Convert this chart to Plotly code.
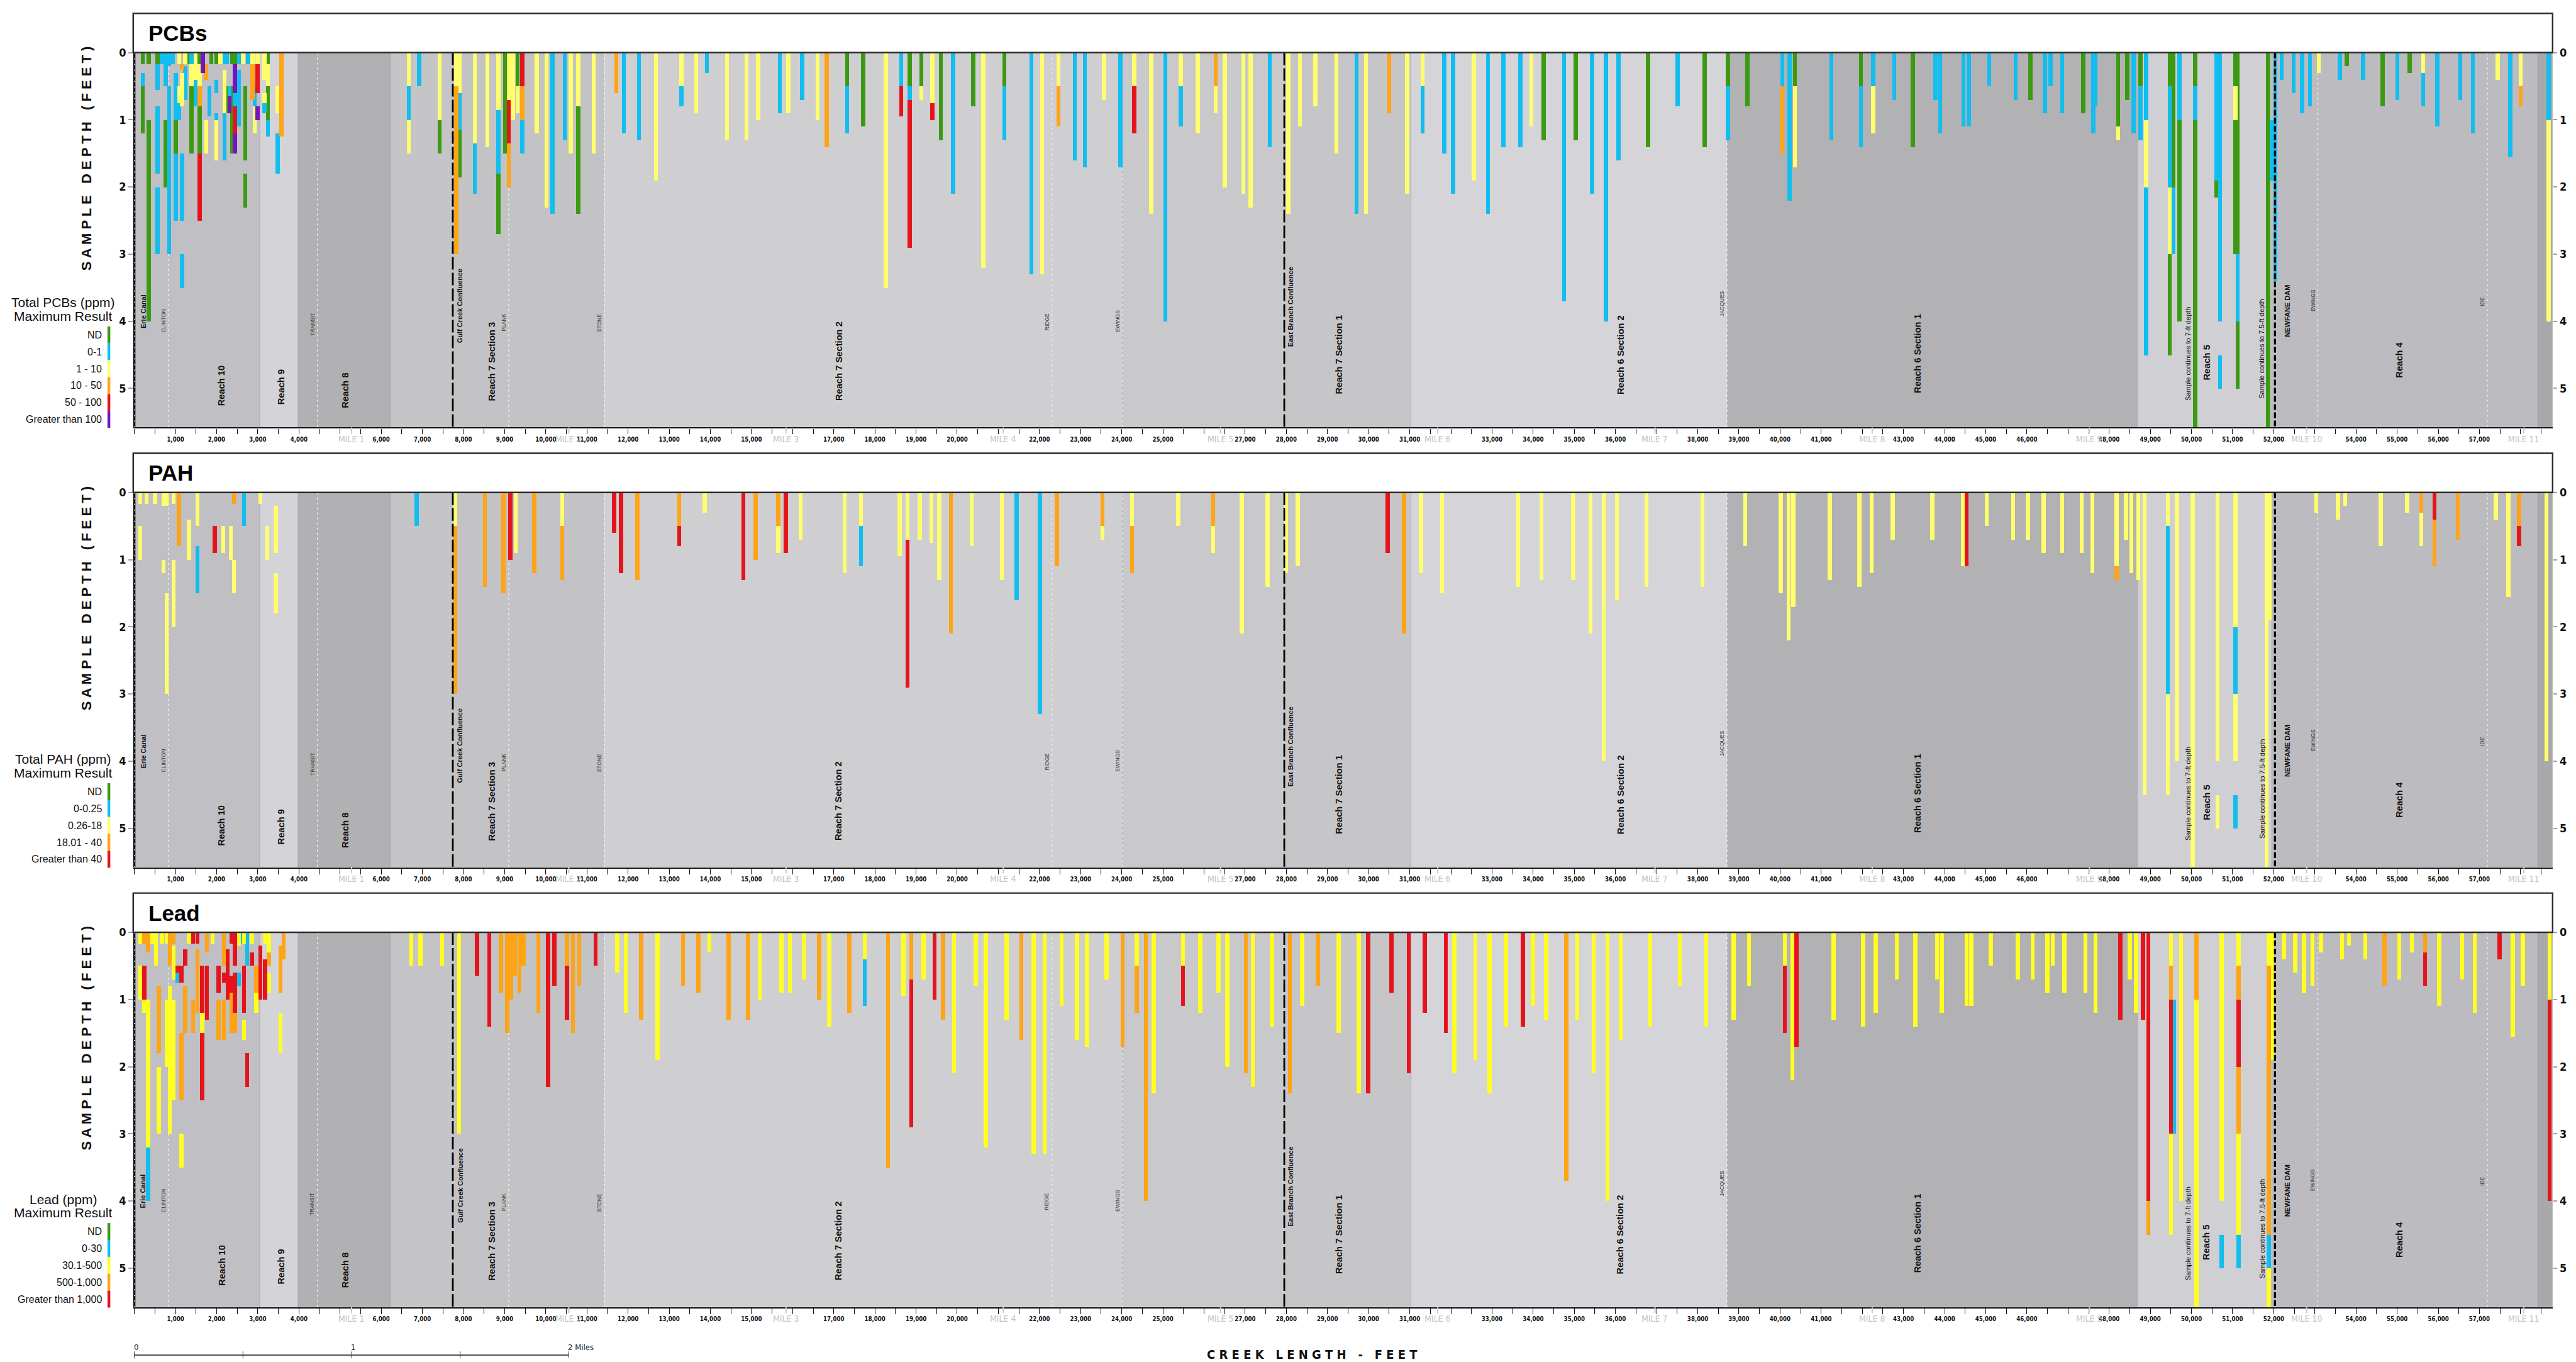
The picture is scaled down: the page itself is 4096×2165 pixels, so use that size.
import plotly.graph_objects as go

# ============================================================ DATA
PCB_CLASSES = ["ND", "0-1", "1 - 10", "10 - 50", "50 - 100", "Greater than 100"]
PAH_CLASSES = ["ND", "0-0.25", "0.26-18", "18.01 - 40", "Greater than 40"]
LEAD_CLASSES = ["ND", "0-30", "30.1-500", "500-1,000", "Greater than 1,000"]

# (creek station ft, top depth ft, bottom depth ft, class index)
PCB_SAMPLES = [
    (200, 0, 0.17, 0), (200, 0.3, 0.5, 1), (200, 0.5, 1.2, 0),
    (350, 0, 0.17, 0), (350, 1.0, 4.0, 0),
    (560, 0, 0.17, 0), (560, 0.17, 0.55, 1), (560, 0.8, 1.8, 1), (560, 2.0, 3.0, 1),
    (660, 0, 0.17, 1),
    (760, 0, 0.5, 1), (760, 1.0, 2.0, 0),
    (845, 0, 0.2, 1), (845, 0.5, 1.0, 1), (845, 1.0, 3.0, 1),
    (930, 0, 0.17, 1),
    (1005, 0.3, 1.0, 1), (1005, 1.0, 1.5, 0), (1005, 1.5, 2.5, 1),
    (1085, 0, 0.17, 2), (1085, 0.5, 0.75, 2), (1085, 0.75, 1.0, 1),
    (1155, 0.17, 0.25, 3), (1155, 0.3, 0.8, 2), (1155, 1.5, 2.5, 1), (1155, 3.0, 3.5, 1),
    (1235, 0, 0.17, 2), (1235, 0.2, 0.7, 1),
    (1300, 0, 0.17, 0),
    (1385, 0, 0.17, 1), (1385, 0.17, 0.5, 2), (1385, 0.5, 1.5, 0),
    (1487, 0, 0.4, 2), (1487, 0.4, 0.8, 1),
    (1588, 0, 0.17, 0), (1588, 0.17, 0.5, 2), (1588, 0.5, 0.8, 3), (1588, 0.8, 1.5, 0), (1588, 1.5, 2.5, 4),
    (1660, 0, 0.3, 5),
    (1738, 0.17, 0.4, 3), (1738, 1.0, 1.5, 2),
    (1820, 0.5, 0.95, 1),
    (1870, 0, 0.17, 0),
    (1990, 0, 0.17, 0), (1990, 0.4, 0.6, 1), (1990, 0.9, 1.0, 1), (1990, 1.0, 1.6, 2),
    (2090, 0, 0.17, 2),
    (2190, 0, 0.17, 1), (2190, 0.25, 0.9, 2), (2190, 0.9, 1.6, 1),
    (2240, 0, 0.17, 1), (2240, 0.5, 0.9, 0),
    (2310, 0.5, 0.65, 1), (2310, 0.65, 0.9, 5),
    (2370, 0, 0.17, 0), (2370, 0.5, 1.5, 0),
    (2440, 0, 0.17, 0), (2440, 0.17, 0.6, 5), (2440, 0.6, 0.8, 1), (2440, 0.8, 1.2, 4), (2440, 1.2, 1.5, 5),
    (2540, 0, 0.17, 1), (2540, 0.25, 1.1, 1),
    (2640, 0, 0.17, 2),
    (2690, 0.5, 1.6, 0), (2690, 1.8, 2.3, 0),
    (2760, 0, 0.17, 1),
    (2870, 0, 0.17, 2), (2870, 0.17, 0.7, 3),
    (2920, 0.5, 0.8, 1), (2920, 0.8, 1.2, 2),
    (2995, 0, 0.17, 2), (2995, 0.17, 0.6, 4), (2995, 0.8, 1.0, 5),
    (3155, 0, 0.4, 2), (3155, 0.6, 0.75, 2), (3155, 0.75, 0.9, 1),
    (3245, 0, 0.17, 0), (3245, 0.17, 0.5, 2), (3245, 0.5, 1.0, 0), (3245, 1.0, 1.25, 1),
    (3478, 0.5, 0.9, 2), (3478, 1.2, 1.8, 1),
    (3570, 0, 1.25, 3),
    (6665, 0, 0.5, 2), (6665, 0.5, 1.0, 1), (6665, 1.0, 1.5, 2),
    (6916, 0, 0.5, 1),
    (7419, 0, 1.0, 2), (7419, 1.0, 1.5, 0),
    (7822, 0, 0.5, 2), (7822, 0.5, 3.0, 3),
    (7902, 0, 0.6, 2), (7902, 0.6, 1.15, 1), (7902, 1.15, 1.85, 0),
    (8274, 0, 1.35, 2), (8274, 1.35, 2.1, 1),
    (8575, 0, 1.4, 2),
    (8847, 0, 0.85, 2), (8847, 0.85, 1.8, 1), (8847, 1.8, 2.7, 0),
    (9008, 0, 1.5, 0),
    (9098, 0, 0.7, 2), (9098, 0.7, 1.35, 4), (9098, 1.35, 2.0, 3),
    (9199, 0, 1.0, 2),
    (9310, 0, 0.5, 0), (9310, 0.5, 0.9, 2),
    (9430, 0, 0.5, 4), (9430, 0.5, 1.0, 3), (9430, 1.0, 1.5, 1),
    (9782, 0, 1.2, 2),
    (10013, 0, 2.3, 2),
    (10164, 0, 2.4, 1),
    (10456, 0, 1.3, 1),
    (10606, 0, 1.5, 2),
    (10787, 0, 0.8, 2), (10787, 0.8, 2.4, 0),
    (11159, 0, 1.5, 2),
    (11712, 0, 0.6, 3),
    (11893, 0, 1.2, 1),
    (12265, 0, 1.3, 1),
    (12673, 0, 1.9, 2),
    (13294, 0, 0.5, 2), (13294, 0.5, 0.8, 1),
    (13651, 0, 0.9, 2),
    (13914, 0, 0.3, 1),
    (14404, 0, 1.3, 2),
    (14874, 0, 1.3, 2),
    (15156, 0, 1.0, 2),
    (15683, 0, 0.9, 1),
    (15890, 0, 0.9, 2),
    (16229, 0, 0.7, 1),
    (16605, 0, 1.0, 2),
    (16829, 0, 1.4, 3),
    (17320, 0, 0.5, 0), (17320, 0.5, 1.2, 1),
    (17711, 0, 1.1, 0),
    (18261, 0, 3.5, 2),
    (18638, 0, 0.5, 1), (18638, 0.5, 0.95, 4),
    (18845, 0, 0.5, 0), (18845, 0.5, 0.7, 1), (18845, 0.7, 2.9, 4),
    (19126, 0, 0.5, 0), (19126, 0.5, 0.7, 2),
    (19390, 0, 0.75, 2), (19390, 0.75, 1.0, 4),
    (19597, 0, 1.3, 0),
    (19898, 0, 2.1, 1),
    (20388, 0, 0.8, 0),
    (20632, 0, 3.2, 2),
    (21140, 0, 0.5, 0), (21140, 0.5, 1.3, 1),
    (21799, 0, 3.3, 1),
    (22062, 0, 3.3, 2),
    (22457, 0, 0.5, 2), (22457, 0.5, 1.1, 3),
    (22852, 0, 1.6, 1),
    (23097, 0, 1.7, 1),
    (23567, 0, 0.7, 2),
    (23962, 0, 1.7, 1),
    (24301, 0, 0.5, 2), (24301, 0.5, 1.2, 4),
    (24715, 0, 2.4, 2),
    (25054, 0, 4.0, 1),
    (25430, 0, 0.5, 2), (25430, 0.5, 1.1, 1),
    (25844, 0, 1.2, 2),
    (26277, 0, 0.5, 3), (26277, 0.5, 0.9, 2),
    (26502, 0, 2.0, 2),
    (26954, 0, 2.1, 2),
    (27124, 0, 2.3, 2),
    (27594, 0, 1.4, 1),
    (28045, 0, 2.4, 2),
    (28327, 0, 1.1, 2),
    (28703, 0, 0.8, 2),
    (29211, 0, 1.5, 2),
    (29703, 0, 2.4, 1),
    (29930, 0, 2.4, 2),
    (30497, 0, 0.9, 3),
    (30931, 0, 2.1, 2),
    (31309, 0, 0.5, 2), (31309, 0.5, 1.2, 1),
    (31838, 0, 1.5, 1),
    (32046, 0, 2.1, 1),
    (32556, 0, 1.9, 2),
    (32896, 0, 2.4, 1),
    (33273, 0, 1.4, 1),
    (33689, 0, 1.4, 1),
    (33953, 0, 1.1, 2),
    (34255, 0, 1.3, 0),
    (34747, 0, 3.7, 1),
    (35030, 0, 1.3, 0),
    (35427, 0, 2.1, 1),
    (35767, 0, 4.0, 1),
    (36069, 0, 1.6, 1),
    (36787, 0, 1.4, 0),
    (37504, 0, 0.8, 1),
    (38166, 0, 1.4, 0),
    (38732, 0, 0.5, 0), (38732, 0.5, 1.3, 1),
    (39205, 0, 0.8, 0),
    (40055, 0, 0.5, 1), (40055, 0.5, 1.5, 3),
    (40225, 0, 2.2, 1),
    (40357, 0, 0.5, 0), (40357, 0.5, 1.7, 2),
    (41244, 0, 1.3, 1),
    (41962, 0, 0.5, 0), (41962, 0.5, 1.4, 1),
    (42264, 0, 0.5, 1), (42264, 0.5, 1.2, 2),
    (42774, 0, 0.7, 1),
    (43227, 0, 1.4, 0),
    (43776, 0, 0.7, 1),
    (43889, 0, 1.2, 1),
    (44455, 0, 1.1, 1),
    (44587, 0, 1.1, 1),
    (45079, 0, 0.5, 1),
    (45721, 0, 0.7, 1),
    (46079, 0, 0.7, 0),
    (46438, 0, 0.9, 1),
    (46571, 0, 0.5, 1),
    (46854, 0, 0.9, 1),
    (47364, 0, 0.9, 0),
    (47612, 0, 1.2, 1),
    (47660, 0, 0.8, 1),
    (48214, 0, 1.1, 0), (48214, 1.1, 1.3, 2),
    (48440, 0, 0.7, 0),
    (48592, 0, 1.2, 1),
    (48760, 0, 0.5, 0), (48760, 0.5, 1.3, 1),
    (48894, 0, 1.0, 1), (48894, 1.0, 2.0, 2), (48894, 2.0, 4.5, 1),
    (49470, 0, 0.5, 0), (49470, 0.5, 2.0, 1), (49470, 2.0, 3.0, 2), (49470, 3.0, 4.5, 0),
    (49560, 0, 2.0, 0), (49560, 2.0, 3.0, 1),
    (49706, 0, 1.0, 1), (49706, 1.0, 4.0, 0),
    (50084, 0, 0.5, 0), (50084, 0.5, 1.0, 1), (50084, 1.0, 5.58, 0),
    (50600, 0, 1.9, 1), (50600, 1.9, 2.15, 0),
    (50690, 0, 4.0, 1), (50690, 4.5, 5.0, 1),
    (51070, 0, 0.5, 0), (51070, 0.5, 1.0, 2), (51070, 1.0, 3.0, 0),
    (51120, 0, 3.0, 0), (51120, 3.0, 4.0, 1), (51120, 4.0, 5.0, 0),
    (51860, 0, 5.58, 0),
    (51950, 1.0, 1.9, 1),
    (52040, 0, 3.4, 1),
    (52190, 0, 0.4, 1),
    (52480, 0, 0.6, 1),
    (52690, 0, 0.9, 1),
    (52880, 0, 0.8, 1),
    (53090, 0, 0.3, 2),
    (53600, 0, 0.4, 1),
    (53770, 0, 0.2, 0),
    (54170, 0, 0.4, 1),
    (54645, 0, 0.8, 0),
    (55000, 0, 0.7, 1),
    (55300, 0, 0.3, 0),
    (55630, 0, 0.3, 2), (55630, 0.3, 0.8, 1),
    (55970, 0, 1.1, 1),
    (56530, 0, 0.7, 1),
    (56835, 0, 1.2, 1),
    (57440, 0, 0.4, 2),
    (57750, 0, 1.55, 1),
    (58000, 0, 0.5, 2), (58000, 0.5, 0.8, 3),
    (58680, 0, 1.0, 1), (58680, 1.0, 4.0, 2),
]

PAH_SAMPLES = [
    (141, 0, 0.17, 2), (141, 0.5, 1.0, 2),
    (292, 0, 0.17, 2),
    (499, 0, 0.17, 2),
    (706, 0, 0.2, 2), (706, 1.0, 1.2, 2),
    (781, 0, 0.2, 2), (781, 1.5, 3.0, 2),
    (950, 0, 0.17, 2), (950, 1.0, 2.0, 2),
    (1082, 0, 0.8, 3),
    (1327, 0.4, 1.0, 2),
    (1534, 0, 0.5, 2), (1534, 0.8, 1.5, 1),
    (1948, 0.5, 0.9, 4),
    (2155, 0.5, 0.9, 2),
    (2343, 0.5, 1.0, 2),
    (2418, 0, 0.17, 3), (2418, 1.0, 1.5, 2),
    (2663, 0, 0.5, 1),
    (3058, 0, 0.17, 2),
    (3227, 0.5, 1.0, 2),
    (3434, 0.2, 0.9, 2), (3434, 1.2, 1.8, 2),
    (6859, 0, 0.5, 1),
    (7799, 0, 0.5, 2), (7799, 0.5, 3.0, 3),
    (8514, 0, 1.4, 3),
    (8966, 0, 1.5, 3),
    (9135, 0, 1.0, 4),
    (9267, 0, 0.9, 2),
    (9719, 0, 1.2, 3),
    (10396, 0, 0.5, 2), (10396, 0.5, 1.3, 3),
    (11657, 0, 0.6, 4),
    (11826, 0, 1.2, 4),
    (12221, 0, 1.3, 3),
    (13237, 0, 0.5, 3), (13237, 0.5, 0.8, 4),
    (13858, 0, 0.3, 2),
    (14799, 0, 1.3, 4),
    (15100, 0, 1.0, 3),
    (15646, 0, 0.5, 3), (15646, 0.5, 0.9, 2),
    (15834, 0, 0.9, 4),
    (16191, 0, 0.7, 2),
    (17264, 0, 1.2, 2),
    (17659, 0, 0.5, 2), (17659, 0.5, 1.1, 1),
    (18600, 0, 0.95, 2),
    (18788, 0, 0.7, 2), (18788, 0.7, 2.9, 4),
    (19089, 0, 0.7, 2),
    (19371, 0, 0.75, 2),
    (19560, 0, 1.3, 2),
    (19842, 0, 2.1, 3),
    (20350, 0, 0.8, 2),
    (21083, 0, 1.3, 2),
    (21441, 0, 1.6, 1),
    (22005, 0, 3.3, 1),
    (22420, 0, 1.1, 3),
    (23530, 0, 0.5, 3), (23530, 0.5, 0.7, 2),
    (24245, 0, 0.5, 2), (24245, 0.5, 1.2, 3),
    (25374, 0, 0.5, 2),
    (26221, 0, 0.5, 3), (26221, 0.5, 0.9, 2),
    (26917, 0, 2.1, 2),
    (27538, 0, 1.4, 2),
    (27990, 0, 1.2, 2),
    (28271, 0, 1.1, 2),
    (30459, 0, 0.9, 4),
    (30856, 0, 2.1, 3),
    (31271, 0, 1.2, 2),
    (31781, 0, 1.5, 2),
    (33632, 0, 1.4, 2),
    (34199, 0, 1.3, 2),
    (34973, 0, 1.3, 2),
    (35389, 0, 2.1, 2),
    (35710, 0, 4.0, 2),
    (36031, 0, 1.6, 2),
    (36749, 0, 1.4, 2),
    (38109, 0, 1.4, 2),
    (39148, 0, 0.8, 2),
    (40016, 0, 1.5, 2),
    (40205, 0, 2.2, 2),
    (40319, 0, 1.7, 2),
    (41206, 0, 1.3, 2),
    (41924, 0, 1.4, 2),
    (42226, 0, 1.2, 2),
    (42736, 0, 0.7, 2),
    (43700, 0, 0.7, 2),
    (44437, 0, 1.1, 2),
    (44531, 0, 1.1, 4),
    (45022, 0, 0.5, 2),
    (45664, 0, 0.7, 2),
    (46023, 0, 0.7, 2),
    (46401, 0, 0.9, 2),
    (46854, 0, 0.9, 2),
    (47326, 0, 0.9, 2),
    (47591, 0, 1.2, 2),
    (48176, 0, 1.1, 2), (48176, 1.1, 1.3, 3),
    (48403, 0, 0.7, 2),
    (48535, 0, 1.2, 2),
    (48705, 0, 1.3, 2),
    (48856, 0, 4.5, 2),
    (49423, 0, 0.5, 2), (49423, 0.5, 3.0, 1), (49423, 3.0, 4.5, 2),
    (49646, 0, 4.0, 2),
    (50024, 0, 5.58, 2),
    (50632, 0, 4.0, 2), (50632, 4.5, 5.0, 2),
    (51066, 0, 2.0, 2), (51066, 2.0, 3.0, 1), (51066, 3.0, 4.0, 2), (51066, 4.5, 5.0, 1),
    (51822, 0, 5.58, 2), (51900, 0, 1.9, 2),
    (53032, 0, 0.3, 2),
    (53561, 0, 0.4, 2),
    (53731, 0, 0.2, 2),
    (54600, 0, 0.8, 2),
    (55242, 0, 0.3, 2),
    (55582, 0, 0.3, 3), (55582, 0.3, 0.8, 2),
    (55903, 0, 0.4, 4), (55903, 0.4, 1.1, 3),
    (56470, 0, 0.7, 3),
    (57396, 0, 0.4, 2),
    (57698, 0, 1.55, 2),
    (57962, 0, 0.5, 3), (57962, 0.5, 0.8, 4),
    (58623, 0, 4.0, 2),
]

LEAD_SAMPLES = [
    (141, 0, 0.17, 2), (141, 0.5, 1.0, 2),
    (236, 0, 0.17, 3), (236, 0.5, 1.0, 4), (236, 1.0, 1.2, 2),
    (330, 0, 0.3, 3), (330, 1.0, 3.2, 2), (330, 3.2, 4.0, 1),
    (424, 0, 0.17, 2),
    (520, 0, 0.5, 2),
    (593, 0.8, 1.8, 3), (593, 2.0, 3.0, 2),
    (668, 0, 0.17, 2),
    (781, 0, 0.17, 2), (781, 1.0, 2.0, 2),
    (856, 0, 0.5, 3), (856, 0.8, 3.0, 2),
    (950, 0, 0.17, 3), (950, 0.2, 0.7, 2), (950, 1.0, 2.5, 2),
    (1044, 0.5, 0.6, 4), (1044, 0.6, 0.75, 1),
    (1139, 0.5, 0.75, 4), (1139, 1.5, 2.5, 3), (1139, 3.0, 3.5, 2),
    (1233, 0.25, 0.5, 4), (1233, 0.8, 1.5, 3),
    (1327, 0, 0.17, 2),
    (1421, 0, 0.17, 4), (1421, 1.0, 1.5, 3),
    (1534, 0, 0.17, 4), (1534, 0.25, 1.2, 3),
    (1647, 0.5, 1.2, 4), (1647, 1.2, 1.5, 2), (1647, 1.5, 2.5, 4),
    (1760, 0, 0.3, 3), (1760, 0.5, 1.3, 4),
    (1900, 0, 0.17, 2),
    (2042, 0.5, 0.9, 4), (2042, 1.0, 1.6, 3),
    (2174, 0, 0.5, 3), (2174, 0.6, 0.75, 4), (2174, 1.0, 1.6, 3),
    (2268, 0.25, 1.0, 4),
    (2362, 0, 0.17, 4), (2362, 0.65, 0.9, 4), (2362, 0.9, 1.5, 3),
    (2437, 0, 0.5, 4), (2437, 0.6, 1.2, 4), (2437, 1.2, 1.5, 3),
    (2531, 0, 0.2, 2), (2531, 0.6, 0.8, 1),
    (2600, 0, 0.17, 1),
    (2663, 0, 0.17, 2), (2663, 0.5, 1.2, 4), (2663, 1.3, 1.6, 2),
    (2738, 0, 0.5, 1), (2738, 1.8, 2.3, 4),
    (2851, 0, 0.17, 2), (2851, 0.3, 0.5, 4),
    (2964, 0.5, 0.9, 3), (2964, 0.9, 1.2, 2),
    (3058, 0.2, 0.5, 4), (3058, 0.5, 1.0, 4),
    (3171, 0, 0.17, 2), (3171, 0.4, 1.0, 4),
    (3265, 0, 0.3, 2), (3265, 0.3, 0.5, 3), (3265, 0.6, 0.9, 2),
    (3547, 0.2, 0.9, 3), (3547, 1.2, 1.8, 2),
    (3622, 0, 0.4, 3),
    (6727, 0, 0.5, 2),
    (6953, 0, 0.5, 2),
    (7480, 0, 0.5, 2),
    (7893, 0, 0.6, 2), (7893, 0.6, 3.0, 2),
    (8326, 0, 0.65, 4),
    (8627, 0, 1.4, 4),
    (8910, 0, 0.9, 3),
    (9060, 0, 1.5, 3),
    (9154, 0, 1.0, 3),
    (9248, 0, 0.65, 3),
    (9361, 0, 0.9, 3),
    (9455, 0, 0.5, 3),
    (9813, 0, 1.2, 3),
    (10057, 0, 2.3, 4),
    (10208, 0, 0.8, 4),
    (10509, 0, 0.5, 3), (10509, 0.5, 1.3, 4),
    (10660, 0, 1.5, 3),
    (10810, 0, 0.8, 3),
    (11205, 0, 0.5, 4),
    (11732, 0, 0.6, 2),
    (11939, 0, 1.2, 2),
    (12315, 0, 1.3, 3),
    (12711, 0, 1.9, 2),
    (13332, 0, 0.8, 3),
    (13708, 0, 0.9, 3),
    (13971, 0, 0.3, 2),
    (14441, 0, 1.3, 3),
    (14912, 0, 1.3, 3),
    (15195, 0, 1.0, 2),
    (15721, 0, 0.9, 2),
    (15928, 0, 0.9, 2),
    (16267, 0, 0.7, 2),
    (16643, 0, 1.0, 3),
    (16887, 0, 1.4, 2),
    (17377, 0, 1.2, 3),
    (17753, 0, 0.4, 2), (17753, 0.4, 1.1, 1),
    (18318, 0, 3.5, 3),
    (18694, 0, 0.95, 2),
    (18882, 0, 0.7, 3), (18882, 0.7, 2.9, 4),
    (19183, 0, 0.7, 2),
    (19447, 0, 1.0, 4),
    (19654, 0, 1.3, 3),
    (19917, 0, 2.1, 2),
    (20444, 0, 0.8, 2),
    (20689, 0, 3.2, 2),
    (21197, 0, 1.3, 2),
    (21554, 0, 1.6, 3),
    (21856, 0, 3.3, 2),
    (22119, 0, 3.3, 2),
    (22533, 0, 1.1, 2),
    (22909, 0, 1.6, 2),
    (23154, 0, 1.7, 2),
    (23624, 0, 0.7, 2),
    (24019, 0, 1.7, 3),
    (24358, 0, 0.5, 2), (24358, 0.5, 1.2, 3),
    (24584, 0, 4.0, 3),
    (24772, 0, 2.4, 2),
    (25487, 0, 0.5, 2), (25487, 0.5, 1.1, 4),
    (25901, 0, 1.2, 2),
    (26352, 0, 0.9, 2),
    (26559, 0, 2.0, 2),
    (27010, 0, 2.1, 3),
    (27180, 0, 2.3, 2),
    (27650, 0, 1.4, 2),
    (28083, 0, 2.4, 3),
    (28384, 0, 1.1, 2),
    (28760, 0, 0.8, 3),
    (29268, 0, 1.5, 2),
    (29760, 0, 2.4, 2),
    (29987, 0, 2.4, 4),
    (30553, 0, 0.9, 4),
    (30969, 0, 2.1, 4),
    (31365, 0, 1.2, 4),
    (31876, 0, 1.5, 4),
    (32083, 0, 2.1, 2),
    (32593, 0, 1.9, 2),
    (32933, 0, 2.4, 2),
    (33330, 0, 1.4, 2),
    (33745, 0, 1.4, 4),
    (33991, 0, 1.1, 2),
    (34312, 0, 1.3, 2),
    (34803, 0, 3.7, 3),
    (35068, 0, 1.3, 2),
    (35464, 0, 2.1, 2),
    (35804, 0, 4.0, 2),
    (36125, 0, 1.6, 2),
    (36843, 0, 1.4, 2),
    (37561, 0, 0.8, 2),
    (38203, 0, 1.4, 2),
    (38864, 0, 1.3, 2),
    (39242, 0, 0.8, 2),
    (40111, 0, 0.5, 2), (40111, 0.5, 1.5, 4),
    (40300, 0, 2.2, 2),
    (40395, 0, 1.7, 4),
    (41302, 0, 1.3, 2),
    (42019, 0, 1.4, 2),
    (42321, 0, 1.2, 2),
    (42831, 0, 0.7, 2),
    (43284, 0, 1.4, 2),
    (43813, 0, 0.7, 2),
    (43927, 0, 1.2, 2),
    (44531, 0, 1.1, 2),
    (44645, 0, 1.1, 2),
    (45117, 0, 0.5, 2),
    (45778, 0, 0.7, 2),
    (46137, 0, 0.7, 2),
    (46495, 0, 0.9, 2),
    (46628, 0, 0.5, 2),
    (46911, 0, 0.9, 2),
    (47421, 0, 0.9, 2),
    (47666, 0, 1.2, 2),
    (48270, 0, 1.3, 4),
    (48497, 0, 0.7, 2),
    (48648, 0, 1.2, 2),
    (48818, 0, 1.3, 4),
    (48950, 0, 4.0, 4), (48950, 4.0, 4.5, 3),
    (49498, 0, 0.5, 2), (49498, 0.5, 1.0, 3), (49498, 1.0, 3.0, 4), (49498, 3.0, 4.5, 2),
    (49574, 1.0, 3.0, 1),
    (49744, 0, 4.0, 2),
    (50122, 0, 1.0, 3), (50122, 1.0, 5.58, 2),
    (50726, 0, 4.0, 2), (50726, 4.5, 5.0, 1),
    (51141, 0, 0.5, 2), (51141, 0.5, 1.0, 3), (51141, 1.0, 2.0, 4), (51141, 2.0, 3.0, 3),
    (51141, 3.0, 4.5, 2), (51141, 4.5, 5.0, 1),
    (51880, 0, 0.5, 2), (51880, 0.5, 4.5, 3), (51880, 4.5, 5.0, 1), (51880, 5.0, 5.58, 2),
    (51960, 0, 1.9, 2),
    (52240, 0, 0.4, 2),
    (52520, 0, 0.6, 2),
    (52730, 0, 0.9, 2),
    (52940, 0, 0.8, 2),
    (53145, 0, 0.3, 2),
    (53655, 0, 0.4, 2),
    (53825, 0, 0.2, 2),
    (54220, 0, 0.4, 2),
    (54690, 0, 0.8, 3),
    (55050, 0, 0.7, 2),
    (55355, 0, 0.3, 2),
    (55675, 0, 0.3, 3), (55675, 0.3, 0.8, 4),
    (56015, 0, 1.1, 2),
    (56580, 0, 0.7, 2),
    (56885, 0, 1.2, 2),
    (57490, 0, 0.4, 4),
    (57810, 0, 1.55, 2),
    (58055, 0, 0.8, 2),
    (58700, 0, 1.0, 2), (58700, 1.0, 4.0, 4),
]

REACH_EDGES_FT = [0, 3050, 3980, 6230, 7740, 11430, 24020, 27950, 31030, 38710, 48690, 51950, 58415, 58800]
REACH_NAMES = ["Reach 10", "Reach 9", "Reach 8", "Reach 7 Section 3", "Reach 7 Section 2",
               "Reach 7 Section 1", "Reach 6 Section 2", "Reach 6 Section 1", "Reach 5", "Reach 4"]
REACH_LABEL_FT = [2117, 3566, 5128, 8684, 17114, 29287, 36126, 43341, 50368, 55052]
REACH_LABEL_DEPTH = [4.96, 4.98, 5.03, 4.6, 4.59, 4.5, 4.5, 4.48, 4.62, 4.58]

STREET_NAMES = ["CLINTON", "TRANSIT", "PLANK", "STONE", "RIDGE", "EWINGS", "JACQUES", "EWINGS", "IDE"]
STREET_FT = [830, 4450, 9100, 11430, 22300, 24020, 38710, 53070, 57190]
STREET_LABEL_DEPTH = [3.99, 4.05, 4.02, 4.03, 4.01, 3.99, 3.74, 3.69, 3.70]

MARKER_NAMES = ["Erie Canal", "Gulf Creek Confluence", "East Branch Confluence", "NEWFANE DAM"]
MARKER_FT = [0, 7740, 27950, 52030]
MARKER_LABEL_FT = [210, 7912, 28101, 52332]
MARKER_LABEL_DEPTH = [3.85, 3.77, 3.78, 3.85]

NOTE_TEXT = ["Sample continues to 7-ft depth", "Sample continues to 7.5-ft depth"]
NOTE_FT = [49915, 51709]
NOTE_DEPTH = [4.48, 4.41]

MILE_FT = 5280
MILES = list(range(1, 12))
TICK_STEP_FT = 500
UNLABELLED_THOUSANDS = [5000, 16000, 21000, 26000, 32000, 37000, 42000, 47000, 53000, 58000]
DEPTH_TICKS = [0, 1, 2, 3, 4, 5]
DEPTH_MAX = 5.58
X_MIN, X_MAX = -28, 58778
SCALE_BAR_MILES = [0, 0.5, 1, 1.5, 2]
SCALE_BAR_LABELS = {0: "0", 1: "1", 2: "2 Miles"}

# ============================================================ STYLE
W, H = 4096, 2165
RW, RH = 5560, 2939          # reference geometry, scaled by W/RW
K = W / RW


def fx(r):
    return r / RW


def fy(r):
    return 1 - r / RH


def px(r):
    return r * K


SANS = "Liberation Sans, Arial, Helvetica, sans-serif"
NARROW = "Liberation Sans Narrow, Arial Narrow, DejaVu Sans Condensed, sans-serif"

GREEN, CYAN, YELLOW, ORANGE, RED, PURPLE = "#3b9a12", "#12bdf0", "#ffff6e", "#ffa414", "#e5141c", "#7414c4"
LEAD_YELLOW = "#ffff22"
REACH_FILLS = ["#c0bfc4", "#d4d3d8", "#b1b0b3", "#c5c4c7", "#c3c2c5", "#cfced1", "#c9c8cb",
               "#c6c5c8", "#d5d4d8", "#b2b1b3", "#d0cfd4", "#bcbbbf", "#a9a8ab"]

PLOT_L, PLOT_R = 287.5, 5509.5
PANEL_STEP = 954
BOX_TOP, PLOT_TOP, PLOT_BOT = 14, 99, 912
BAR_W = 100

PANELS = [
    dict(title="PCBs", samples=PCB_SAMPLES, classes=PCB_CLASSES,
         colors=[GREEN, CYAN, YELLOW, ORANGE, RED, PURPLE], legend=("Total PCBs (ppm)", "Maximum Result")),
    dict(title="PAH", samples=PAH_SAMPLES, classes=PAH_CLASSES,
         colors=[GREEN, CYAN, YELLOW, ORANGE, RED], legend=("Total PAH (ppm)", "Maximum Result")),
    dict(title="Lead", samples=LEAD_SAMPLES, classes=LEAD_CLASSES,
         colors=[GREEN, CYAN, LEAD_YELLOW, ORANGE, RED], legend=("Lead (ppm)", "Maximum Result")),
]

fig = go.Figure()
shapes, annotations = [], []
layout_axes = {}

tickvals = list(range(0, 58501, TICK_STEP_FT))
ticktext = [f"{v:,}" if (v % 1000 == 0 and v > 0 and v not in UNLABELLED_THOUSANDS) else "" for v in tickvals]


def note(**kw):
    base = dict(showarrow=False, xanchor="center", yanchor="middle")
    base.update(kw)
    annotations.append(base)


for i, p in enumerate(PANELS):
    off = i * PANEL_STEP
    sfx = "" if i == 0 else str(i + 1)
    xa, ya, yr = "x" + sfx, "y" + sfx, "y" + str(i + 4)
    top, bot = PLOT_TOP + off, PLOT_BOT + off
    ydom = [fy(bot), fy(top)]

    # ---- bars
    for k, col in enumerate(p["colors"]):
        segs = [s for s in p["samples"] if s[3] == k]
        if not segs:
            continue
        fig.add_trace(go.Bar(
            x=[s[0] for s in segs], y=[s[2] - s[1] for s in segs], base=[s[1] for s in segs],
            width=BAR_W, marker=dict(color=col, line=dict(width=0)),
            xaxis=xa, yaxis=ya, showlegend=False, hoverinfo="skip", name=p["classes"][k]))
    fig.add_trace(go.Scatter(x=[0], y=[0], xaxis=xa, yaxis=yr, mode="markers",
                             marker=dict(opacity=0), showlegend=False, hoverinfo="skip"))

    layout_axes["xaxis" + sfx] = dict(
        domain=[fx(PLOT_L), fx(PLOT_R)], range=[X_MIN, X_MAX], anchor=ya,
        tickmode="array", tickvals=tickvals, ticktext=ticktext,
        ticks="outside", ticklen=px(12), tickwidth=1.3, tickcolor="#111",
        showline=True, linecolor="#111", linewidth=2.4, showgrid=False, zeroline=False,
        tickfont=dict(family=NARROW, size=9.6, color="#111", weight="bold"), fixedrange=True)
    ycommon = dict(domain=ydom, range=[DEPTH_MAX, 0], tickmode="array", tickvals=DEPTH_TICKS,
                   ticks="outside", ticklen=px(9), tickwidth=1.5, tickcolor="#a0a0a0",
                   showline=False, showgrid=False, zeroline=False, fixedrange=True,
                   tickfont=dict(family=NARROW, size=18, color="#111", weight="bold"))
    layout_axes["yaxis" + sfx] = dict(anchor=xa, **ycommon)
    layout_axes["yaxis" + str(i + 4)] = dict(anchor=xa, overlaying=ya, side="right", **ycommon)

    # ---- reach background
    for j, fill in enumerate(REACH_FILLS):
        shapes.append(dict(type="rect", xref=xa, yref=ya, x0=REACH_EDGES_FT[j], x1=REACH_EDGES_FT[j + 1],
                           y0=0, y1=DEPTH_MAX, fillcolor=fill, line=dict(width=0), layer="below"))
    for e in [3050, 3980, 6230, 24020, 31030, 48690, 51950, 58415]:
        shapes.append(dict(type="line", xref=xa, yref=ya, x0=e, x1=e, y0=0, y1=DEPTH_MAX,
                           line=dict(color="#a4a4a7", width=0.8), layer="below"))
    for sx in STREET_FT:
        shapes.append(dict(type="line", xref=xa, yref=ya, x0=sx, x1=sx, y0=0, y1=DEPTH_MAX,
                           line=dict(color="#efefef", width=1.6, dash="3px,5px"), layer="below"))

    # ---- confluence / dam lines
    shapes.append(dict(type="line", xref=xa, yref=ya, x0=0, x1=0, y0=0, y1=DEPTH_MAX,
                       line=dict(color="#000", width=3.3)))
    shapes.append(dict(type="line", xref=xa, yref=ya, x0=0, x1=0, y0=0, y1=DEPTH_MAX,
                       line=dict(color="#fff", width=1.1, dash="2px,7px")))
    for mx in MARKER_FT[1:3]:
        shapes.append(dict(type="line", xref=xa, yref=ya, x0=mx, x1=mx, y0=0, y1=DEPTH_MAX,
                           line=dict(color="#000", width=2.8, dash="20px,5px")))
    shapes.append(dict(type="line", xref=xa, yref=ya, x0=MARKER_FT[3], x1=MARKER_FT[3], y0=0, y1=DEPTH_MAX,
                       line=dict(color="#000", width=3.4, dash="9px,4px")))

    # ---- title box
    shapes.append(dict(type="rect", xref="paper", yref="paper", x0=fx(PLOT_L), x1=fx(PLOT_R),
                       y0=fy(PLOT_TOP + off), y1=fy(BOX_TOP + off), fillcolor="#fff",
                       line=dict(color="#2a2a2a", width=2.4)))
    note(text="<b>%s</b>" % p["title"], xref="paper", yref="paper",
         x=fx(317), y=fy(57 + off), xanchor="left",
         font=dict(family=SANS, size=35, color="#000"))

    # ---- mile markers
    for m in MILES:
        mft = m * MILE_FT
        shapes.append(dict(type="line", xref=xa, yref="paper", x0=mft, x1=mft, y0=fy(bot), y1=fy(bot + 13),
                           line=dict(color="#c8c8c8", width=2)))
        note(text="MILE %d" % m, xref=xa, yref="paper", x=mft, y=fy(bot + 25),
             font=dict(family=NARROW, size=14, color="#c4c4c4"))

    # ---- in-plot labels
    for name, lx, ld in zip(REACH_NAMES, REACH_LABEL_FT, REACH_LABEL_DEPTH):
        note(text="<b>%s</b>" % name, xref=xa, yref=ya, x=lx, y=ld, textangle=-90,
             font=dict(family=SANS, size=14.7, color="#111"))
    for name, sx, ld in zip(STREET_NAMES, STREET_FT, STREET_LABEL_DEPTH):
        note(text=name, xref=xa, yref=ya, x=sx, y=ld, xshift=-8, textangle=-90,
             font=dict(family=SANS, size=8.5, color="#333"))
    for name, lx, ld in zip(MARKER_NAMES, MARKER_LABEL_FT, MARKER_LABEL_DEPTH):
        note(text="<b>%s</b>" % name, xref=xa, yref=ya, x=lx, y=ld, textangle=-90,
             font=dict(family=SANS, size=11, color="#111"))
    for name, lx, ld in zip(NOTE_TEXT, NOTE_FT, NOTE_DEPTH):
        note(text=name, xref=xa, yref=ya, x=lx, y=ld, textangle=-90,
             font=dict(family=SANS, size=11, color="#111"))

    # ---- y title
    note(text="<b>S A M P L E\u00a0\u00a0 D E P T H\u00a0\u00a0 ( F E E T )</b>", xref="paper", yref="paper",
         x=fx(186), y=fy(329 + off), textangle=-90,
         font=dict(family=SANS, size=22, color="#111"))

    # ---- legend
    n = len(p["classes"])
    seg = 36.67
    lbot = bot + 1
    ltop = lbot - n * seg
    for k, (lab, col) in enumerate(zip(p["classes"], p["colors"])):
        y0 = ltop + k * seg
        y1 = y0 + seg
        shapes.append(dict(type="rect", xref="paper", yref="paper", x0=fx(232), x1=fx(238),
                           y0=fy(y1), y1=fy(y0), fillcolor=col, line=dict(width=0)))
        note(text=lab, xref="paper", yref="paper", x=fx(223), y=fy((y0 + y1) / 2), xanchor="right",
             font=dict(family=SANS, size=16, color="#111"))
    note(text=p["legend"][0], xref="paper", yref="paper", x=fx(137), y=fy(ltop - 52),
         font=dict(family=SANS, size=21, color="#111"))
    note(text=p["legend"][1], xref="paper", yref="paper", x=fx(137), y=fy(ltop - 23),
         font=dict(family=SANS, size=21, color="#111"))

# ---- scale bar (in lead-panel feet)
shapes.append(dict(type="line", xref="x3", yref="paper", x0=0, x1=2 * MILE_FT, y0=fy(2924), y1=fy(2924),
                   line=dict(color="#555", width=2.2)))
for m in SCALE_BAR_MILES:
    shapes.append(dict(type="line", xref="x3", yref="paper", x0=m * MILE_FT, x1=m * MILE_FT,
                       y0=fy(2931), y1=fy(2916), line=dict(color="#444", width=1)))
for m, lab in SCALE_BAR_LABELS.items():
    note(text=lab, xref="x3", yref="paper", x=m * MILE_FT, y=fy(2907), xanchor="left", xshift=-3,
         font=dict(family=NARROW, size=13, color="#222"))
note(text="<b>C R E E K\u00a0\u00a0 L E N G T H\u00a0\u00a0 -\u00a0\u00a0 F E E T</b>",
     xref="paper", yref="paper", x=fx(2832), y=fy(2922),
     font=dict(family=NARROW, size=20, color="#111"))

fig.update_layout(
    width=W, height=H, margin=dict(l=0, r=0, t=0, b=0, pad=0),
    paper_bgcolor="#fff", plot_bgcolor="#fff", barmode="overlay", bargap=0,
    shapes=shapes, annotations=annotations, showlegend=False, **layout_axes)

fig.write_html("out.html", include_plotlyjs=True, full_html=True,
               config={"displayModeBar": False},
               post_script="document.body.style.margin='0';document.body.style.overflow='hidden';")
